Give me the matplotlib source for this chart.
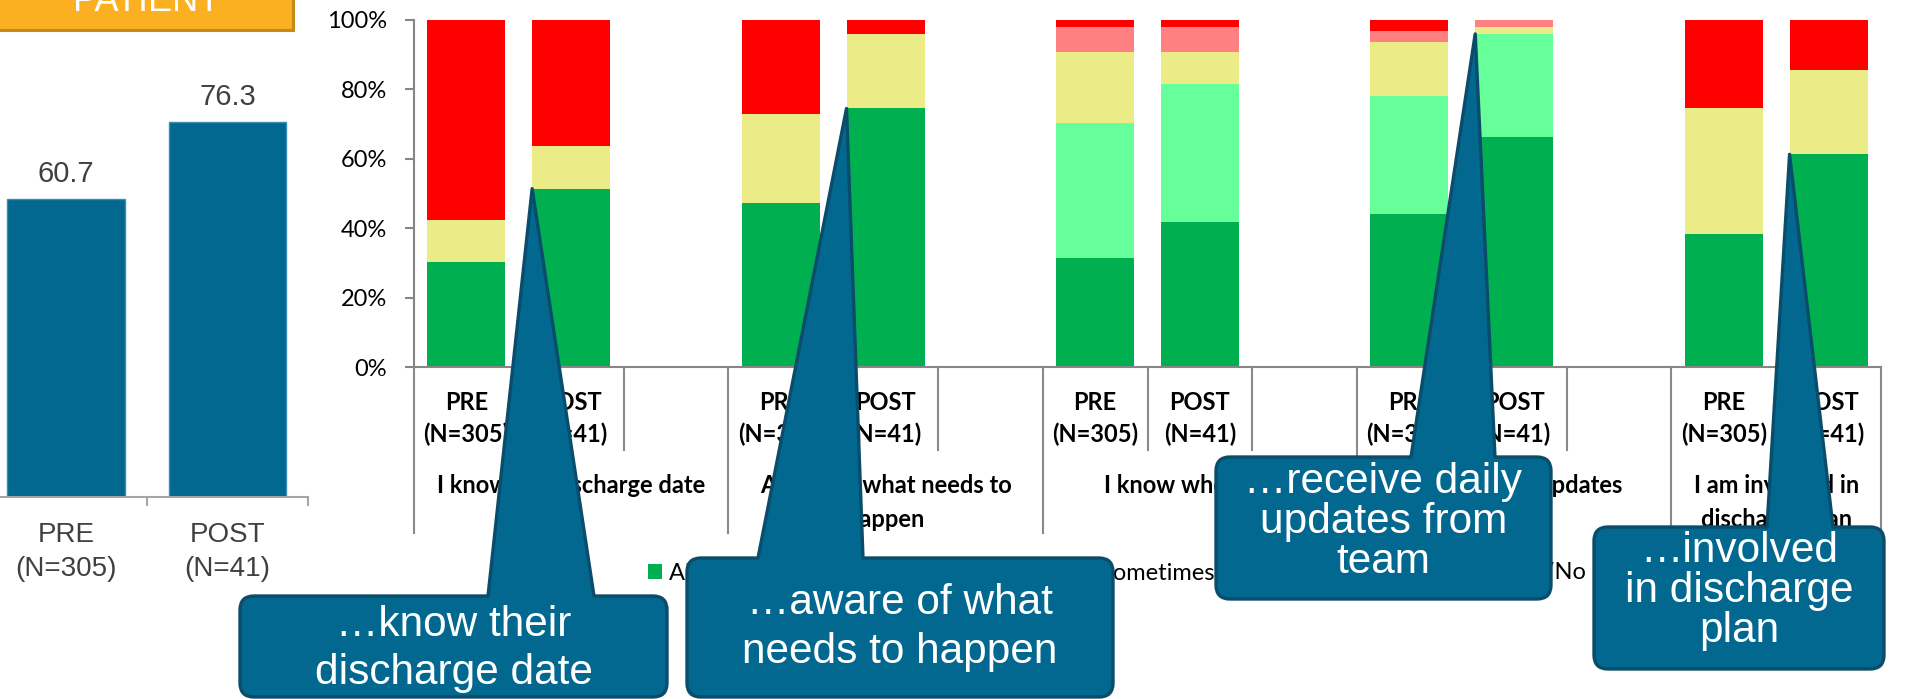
import matplotlib
matplotlib.use("Agg")
import matplotlib.pyplot as plt
import matplotlib.transforms as mtransforms
from matplotlib.path import Path
from matplotlib.patches import PathPatch, Rectangle
import numpy as np

W, H = 1917, 699
LABEL_FONT = ["Lato", "DejaVu Sans"]
ARIAL = ["Liberation Sans", "DejaVu Sans"]

# overall score, before and after
score_labels = ["PRE", "POST"]
score_n = ["(N=305)", "(N=41)"]
score_values = [60.7, 76.3]

# answers per question (percent), PRE then POST for each question
questions = ["I know my discharge date",
             "Aware of what needs to\nhappen",
             "I know who to ask",
             "I get regular updates",
             "I am involved in\ndischarge plan"]
phase_labels = ["PRE", "POST"]
phase_n = ["(N=305)", "(N=41)"]
always = [30.2, 51.4, 47.4, 74.5, 31.4, 41.7, 44.1, 66.3, 38.3, 61.3]
usually = [0, 0, 0, 0, 38.9, 39.8, 34.0, 29.7, 0, 0]
sometimes = [12.2, 12.3, 25.6, 21.5, 20.5, 9.3, 15.7, 2.0, 36.4, 24.4]
rarely = [0, 0, 0, 0, 7.2, 7.2, 3.0, 2.0, 0, 0]
never = [57.6, 36.3, 27.0, 4.0, 2.0, 2.0, 3.2, 0, 25.3, 14.3]
response_labels = ["Always/Yes definitely", "Usually", "Sometimes/Partly",
                   "Rarely", "Never/No"]
response_colors = ["#00B050", "#66FF99", "#EBEB87", "#FF8080", "#FF0000"]

# speech bubbles and the question (POST bar) each one points at
notes = ["…know their\ndischarge date", "…aware of what\nneeds to happen",
         "…receive daily\nupdates from\nteam", "…involved\nin discharge\nplan"]
note_questions = [0, 1, 3, 4]

fig = plt.figure(figsize=(W / 100, H / 100), dpi=100)
px = mtransforms.Affine2D().scale(1, -1).translate(0, H)  # pixels, y down

# ---- left panel: overall score
axl = fig.add_axes([-14.5 / W, (H - 497) / H, 322.5 / W, 491 / H])
xl = np.arange(len(score_values))
bars = axl.bar(xl, score_values, width=0.73, color="#02688F",
               edgecolor="#3A8DB4", linewidth=1)
axl.set_xlim(-0.5, 1.5)
axl.set_ylim(0, 100)
for s in ["left", "top", "right"]:
    axl.spines[s].set_visible(False)
axl.spines["bottom"].set_color("#A6A6A6")
axl.spines["bottom"].set_linewidth(1.5)
axl.set_yticks([])
axl.set_xticks([])
axl.set_xticks([0.5, 1.5], minor=True)
axl.tick_params(axis="x", which="minor", direction="out", length=6.5,
                width=1.5, color="#A6A6A6")
axl.bar_label(bars, labels=[f"{v:.1f}" for v in score_values], padding=8,
              fontsize=21, color="#404040", family=ARIAL)
trl = mtransforms.blended_transform_factory(axl.transData, px)
for i in xl:
    axl.text(i, 542, score_labels[i], transform=trl, ha="center", va="baseline",
             fontsize=20, color="#404040", family=ARIAL)
    axl.text(i, 576, score_n[i], transform=trl, ha="center", va="baseline",
             fontsize=20, color="#404040", family=ARIAL)

# ---- right panel: stacked responses
ax = fig.add_axes([414 / W, (H - 367) / H, 1467 / W, 347 / H])
pos = np.array([3 * q + p for q in range(len(questions)) for p in range(2)])
bottom = np.zeros(len(pos))
series = [always, usually, sometimes, rarely, never]
for vals, lab, col in zip(series, response_labels, response_colors):
    ax.bar(pos, vals, 0.745, bottom=bottom, color=col, label=lab, linewidth=0)
    bottom += np.array(vals)
ax.set_xlim(-0.5, 13.5)
ax.set_ylim(0, 100)
for s in ["top", "right"]:
    ax.spines[s].set_visible(False)
for s in ["left", "bottom"]:
    ax.spines[s].set_color("#868686")
    ax.spines[s].set_linewidth(1.5)
ax.set_yticks(range(0, 101, 20))
ax.set_yticklabels([f"{v}%" for v in range(0, 101, 20)], family=LABEL_FONT,
                   fontsize=17)
ax.tick_params(axis="y", length=6.5, width=1.5, color="#868686", pad=13)
ax.set_xticks([])

# category separators: short inside a question, long between questions
trv = mtransforms.blended_transform_factory(ax.transData, ax.transAxes)
starts = [3 * q - 0.5 for q in range(len(questions))] + [13.5]
for b in np.arange(-0.5, 13.6, 1.0):
    low = -0.478 if any(abs(b - s) < 1e-6 for s in starts) else -0.239
    ax.plot([b, b], [0, low], transform=trv, clip_on=False, color="#898989",
            lw=1.5)

tr = mtransforms.blended_transform_factory(ax.transData, px)
for i, x in enumerate(pos):
    ax.text(x, 410, phase_labels[i % 2], transform=tr, ha="center",
            va="baseline", fontsize=17, fontweight="bold", family=LABEL_FONT)
    ax.text(x, 442, phase_n[i % 2], transform=tr, ha="center",
            va="baseline", fontsize=17, fontweight="bold", family=LABEL_FONT)
for q, text in enumerate(questions):
    cx = (starts[q] + starts[q + 1]) / 2
    for k, line in enumerate(text.split("\n")):
        ax.text(cx, 493 + 34 * k, line, transform=tr, ha="center",
                va="baseline", fontsize=17, fontweight="bold",
                family=LABEL_FONT)

ax.legend(loc="center left", bbox_to_anchor=(648, 573), bbox_transform=px,
          ncol=5, frameon=False, handlelength=0.6, handleheight=0.6,
          handletextpad=0.3, columnspacing=1.85, borderpad=0, borderaxespad=0,
          prop={"family": LABEL_FONT, "size": 17})

# ---- overlay: title tag and speech bubbles
ov = fig.add_axes([0, 0, 1, 1], zorder=10)
ov.set_xlim(0, W)
ov.set_ylim(H, 0)
ov.axis("off")
ov.patch.set_alpha(0)

ov.add_patch(Rectangle((-5, -40), 298, 70, facecolor="#FBB022",
                       edgecolor="#C58A1C", lw=2.2))
ov.text(147, 11, "PATIENT", ha="center", va="baseline", color="white",
        fontsize=26, family=ARIAL)


def bubble(x0, y0, x1, y1, bl, br, tip, r=14):
    verts = [(x0 + r, y0), (bl, y0), tip, (br, y0), (x1 - r, y0),
             (x1, y0), (x1, y0 + r), (x1, y1 - r), (x1, y1), (x1 - r, y1),
             (x0 + r, y1), (x0, y1), (x0, y1 - r), (x0, y0 + r), (x0, y0),
             (x0 + r, y0), (x0 + r, y0)]
    codes = [Path.MOVETO, Path.LINETO, Path.LINETO, Path.LINETO, Path.LINETO,
             Path.CURVE3, Path.CURVE3, Path.LINETO, Path.CURVE3, Path.CURVE3,
             Path.LINETO, Path.CURVE3, Path.CURVE3, Path.LINETO, Path.CURVE3,
             Path.CURVE3, Path.CLOSEPOLY]
    return PathPatch(Path(verts, codes), facecolor="#02688F",
                     edgecolor="#0A4D6B", lw=2.4, joinstyle="round")


# box left, top, right, bottom, pointer base, first baseline, line step
bubble_layout = [(240, 596, 667, 697, 488, 594, 636, 48),
                 (687, 558, 1113, 697, 758, 863, 614, 49),
                 (1216, 457, 1551, 599, 1411, 1495, 493, 40),
                 (1594, 527, 1884, 669, 1767, 1833, 562, 40)]
for text, q, lay in zip(notes, note_questions, bubble_layout):
    i = 2 * q + 1
    dx, dy = ax.transData.transform((pos[i] - 0.745 / 2, always[i] + usually[i]))
    tip = (dx, H - dy)
    x0, y0, x1, y1, bl, br, base, step = lay
    ov.add_patch(bubble(x0, y0, x1, y1, bl, br, tip))
    for k, line in enumerate(text.split("\n")):
        ov.text((x0 + x1) / 2, base + step * k, line, ha="center",
                va="baseline", color="white", fontsize=30.5, family=ARIAL)

fig.savefig("out.png", dpi=100)
